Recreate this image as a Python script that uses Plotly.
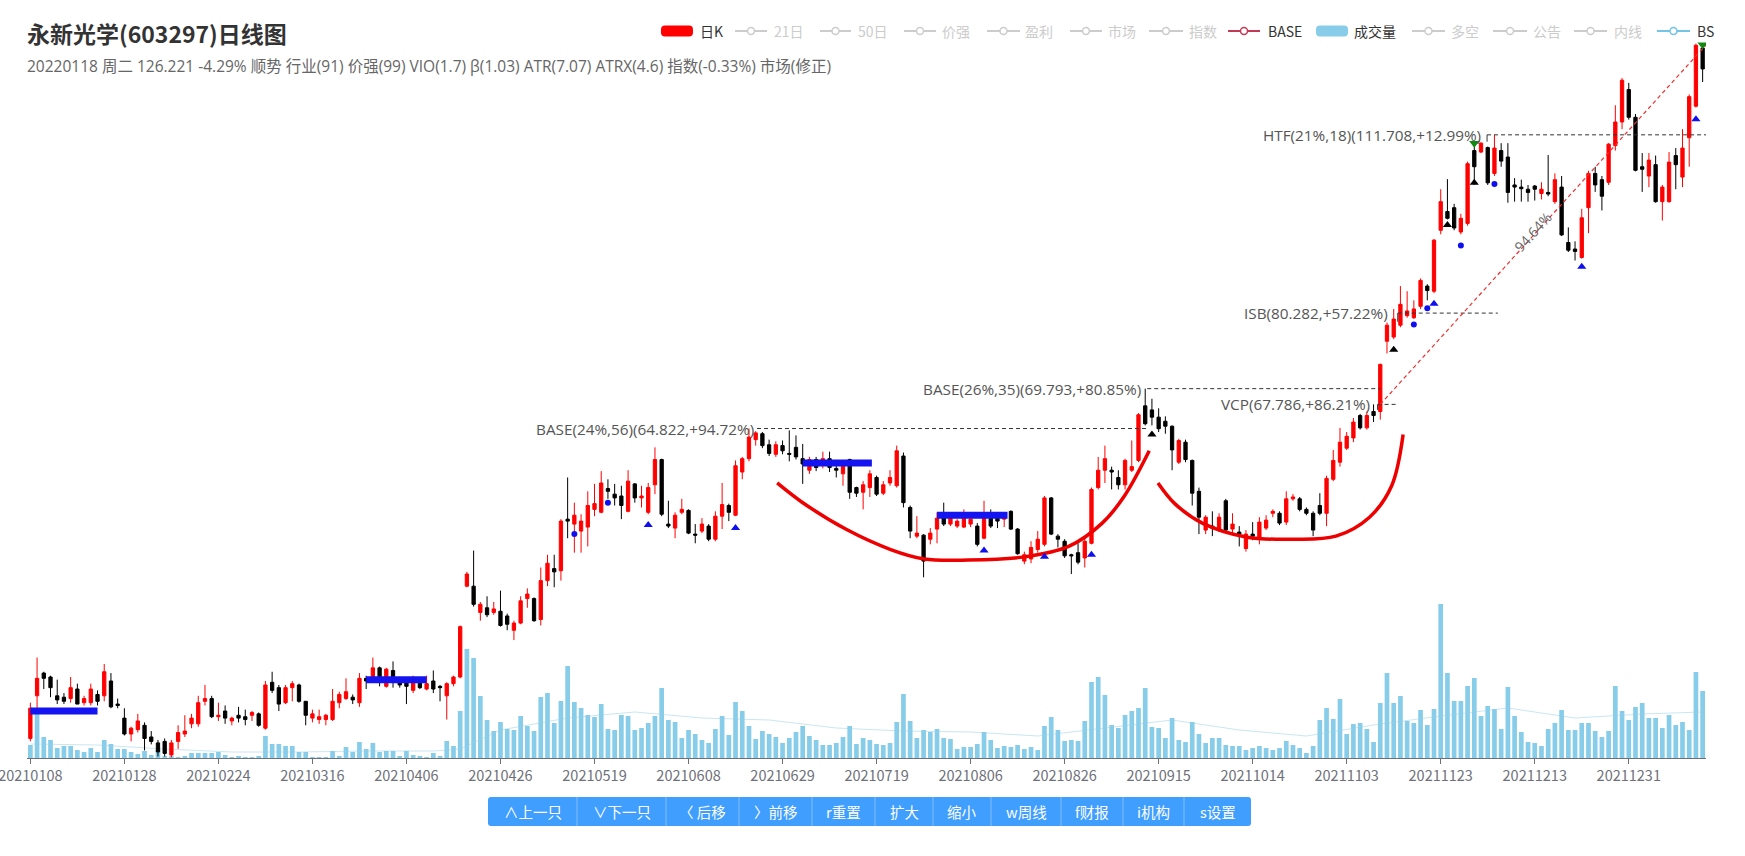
import math
import pandas as pd
import plotly.graph_objects as go

# ---------------- data ----------------
HOLIDAYS = ['2021-02-11', '2021-02-12', '2021-02-15', '2021-02-16', '2021-02-17',
            '2021-04-05', '2021-05-03', '2021-05-04', '2021-05-05', '2021-06-14',
            '2021-09-20', '2021-09-21', '2021-10-01', '2021-10-04', '2021-10-05',
            '2021-10-06', '2021-10-07', '2022-01-03']
dates = [d.strftime('%Y%m%d') for d in
         pd.bdate_range('2021-01-08', '2022-01-18', freq='C', holidays=HOLIDAYS)]

open_ = [
    36.5, 39.5, 41.2, 40.9, 39.5, 39.4, 39.3, 40.0, 39.0, 39.0,
    39.6, 39.5, 40.6, 38.9, 37.9, 36.8, 37.1, 37.4, 36.6, 36.2,
    36.3, 35.4, 36.3, 36.8, 37.5, 37.5, 39.1, 39.3, 38.0, 38.4,
    37.7, 38.1, 38.0, 38.1, 38.2, 37.2, 40.5, 40.1, 39.0, 40.1,
    40.3, 39.1, 37.9, 37.8, 37.8, 37.8, 39.0, 39.3, 39.4, 39.0,
    40.8, 40.8, 41.6, 40.2, 41.4, 40.8, 40.6, 39.9, 40.6, 40.0,
    40.6, 40.2, 39.5, 40.4, 40.9, 48.4, 48.4, 46.1, 46.5, 46.1,
    46.2, 45.8, 44.6, 45.2, 47.3, 47.3, 45.5, 48.9, 50.0, 49.8,
    54.8, 54.3, 53.6, 54.0, 55.8, 55.5, 58.0, 57.4, 57.2, 55.6,
    58.5, 57.0, 55.5, 58.4, 61.2, 54.3, 53.9, 55.5, 55.7, 53.3,
    53.6, 54.1, 52.8, 55.1, 56.2, 55.2, 59.8, 61.3, 63.5, 64.2,
    62.9, 61.8, 62.8, 61.9, 62.6, 61.3, 60.0, 61.2, 60.6, 61.3,
    60.2, 59.6, 61.2, 58.1, 57.6, 58.1, 59.2, 57.5, 58.6, 58.3,
    61.6, 56.0, 53.1, 53.2, 52.8, 53.8, 55.2, 54.3, 54.1, 54.0,
    54.3, 54.1, 52.9, 55.1, 55.2, 54.8, 55.6, 53.8, 50.7, 50.9,
    51.8, 52.3, 57.0, 53.1, 52.6, 51.3, 51.5, 51.0, 52.4, 58.1,
    60.0, 60.0, 59.2, 58.4, 60.0, 61.1, 67.6, 67.1, 66.2, 65.7,
    65.1, 60.9, 63.2, 61.1, 57.7, 53.7, 54.1, 53.7, 56.7, 53.8,
    53.5, 51.9, 53.3, 52.9, 53.9, 55.4, 55.4, 54.5, 56.9, 56.9,
    55.8, 55.4, 56.2, 55.4, 59.0, 60.9, 62.5, 63.7, 66.4, 64.9,
    66.9, 66.9, 76.2, 76.8, 78.5, 79.9, 79.6, 81.3, 84.4, 83.6,
    93.6, 96.9, 97.6, 93.3, 94.8, 108.5, 108.2, 109.1, 104.0, 108.5,
    107.2, 101.8, 101.4, 101.0, 101.6, 100.2, 100.4, 98.7, 101.4, 91.5,
    90.4, 89.0, 97.6, 104.0, 102.8, 102.3, 109.5, 114.4, 121.5, 115.4,
    105.3, 103.5, 105.7, 98.7, 98.7, 107.5, 103.3, 111.1, 117.8, 131.2,
]
high = [
    39.0, 42.4, 41.3, 41.0, 40.7, 39.7, 40.9, 40.4, 39.5, 40.4,
    39.9, 41.9, 41.2, 39.3, 38.6, 37.3, 38.2, 37.6, 37.0, 36.4,
    36.5, 36.4, 37.4, 38.1, 38.2, 39.5, 40.3, 39.5, 39.0, 38.8,
    38.0, 38.7, 38.5, 38.4, 38.3, 40.6, 41.3, 40.3, 40.3, 40.6,
    40.4, 39.1, 38.5, 38.5, 38.2, 40.0, 39.8, 40.8, 39.6, 41.2,
    41.0, 42.4, 41.7, 41.6, 42.1, 40.9, 40.9, 41.0, 40.8, 41.0,
    41.4, 40.3, 40.5, 41.0, 45.0, 49.7, 51.7, 47.0, 47.5, 47.0,
    48.0, 46.0, 45.4, 47.5, 48.2, 47.4, 50.1, 51.3, 51.3, 54.8,
    59.2, 56.5, 55.3, 57.7, 58.5, 59.9, 59.0, 58.5, 58.3, 60.0,
    58.6, 58.3, 58.6, 62.6, 61.3, 56.7, 55.5, 56.9, 55.8, 54.3,
    54.9, 54.3, 55.6, 58.6, 56.4, 61.1, 61.5, 64.82, 64.5, 64.4,
    63.5, 63.3, 63.4, 64.6, 64.0, 63.0, 61.5, 61.5, 62.1, 62.1,
    60.7, 60.7, 61.3, 58.2, 58.8, 60.0, 59.4, 58.8, 60.0, 62.8,
    62.0, 56.2, 55.1, 53.3, 53.9, 55.5, 56.5, 55.4, 54.8, 55.8,
    55.2, 54.4, 56.7, 55.8, 55.5, 55.5, 55.7, 53.9, 51.6, 52.6,
    53.6, 57.2, 57.1, 53.3, 52.8, 51.4, 52.4, 52.9, 58.1, 61.5,
    62.8, 60.4, 60.0, 61.3, 63.4, 66.7, 69.79, 68.5, 67.3, 66.3,
    65.2, 63.6, 63.5, 61.2, 58.1, 55.2, 55.6, 55.4, 56.9, 55.4,
    54.1, 53.7, 54.5, 55.0, 55.2, 55.8, 55.6, 57.7, 57.4, 57.1,
    56.0, 55.6, 57.5, 59.4, 62.3, 64.9, 64.4, 66.1, 66.6, 66.9,
    67.79, 73.1, 78.9, 80.9, 84.4, 83.6, 82.2, 85.6, 84.7, 92.1,
    101.0, 102.9, 98.3, 96.5, 106.3, 109.5, 110.2, 109.3, 111.708, 110.0,
    110.0, 103.1, 102.8, 101.8, 101.8, 102.3, 107.6, 104.0, 103.5, 94.1,
    91.7, 97.4, 104.5, 105.3, 103.5, 110.0, 118.0, 124.1, 123.0, 116.1,
    108.0, 108.0, 107.5, 101.8, 108.2, 109.0, 112.9, 120.4, 132.3, 132.2,
]
low = [
    36.3, 38.6, 40.0, 39.4, 38.9, 38.9, 39.0, 38.9, 38.8, 38.8,
    38.8, 39.1, 38.6, 38.6, 36.7, 36.3, 36.9, 35.7, 36.1, 35.3,
    35.3, 35.25, 35.8, 36.6, 37.2, 37.3, 38.8, 37.9, 37.7, 37.5,
    37.4, 37.6, 37.4, 37.7, 37.3, 37.1, 39.7, 38.4, 38.9, 39.1,
    39.0, 37.4, 37.6, 37.5, 37.4, 37.7, 38.6, 39.2, 38.9, 38.7,
    40.0, 40.6, 40.2, 40.1, 40.1, 40.1, 38.9, 39.7, 40.0, 39.9,
    39.7, 39.1, 37.8, 40.2, 40.8, 48.3, 46.6, 45.4, 45.7, 45.9,
    44.9, 44.6, 43.8, 45.1, 46.5, 45.3, 45.0, 48.4, 48.3, 48.9,
    52.9, 51.5, 51.5, 52.1, 55.1, 55.4, 56.9, 56.2, 54.8, 55.5,
    56.5, 56.0, 55.3, 57.4, 55.1, 53.9, 52.9, 55.3, 53.3, 52.4,
    53.4, 52.6, 52.6, 53.8, 54.6, 55.1, 59.0, 61.0, 62.8, 62.5,
    61.6, 61.5, 61.8, 61.0, 61.2, 58.5, 59.6, 59.9, 60.2, 59.8,
    59.2, 58.3, 56.9, 57.1, 55.8, 57.1, 57.2, 57.3, 58.3, 58.1,
    56.0, 52.9, 52.9, 49.2, 52.3, 52.4, 54.1, 54.1, 53.9, 53.9,
    54.0, 52.1, 52.8, 53.9, 53.9, 54.0, 53.7, 51.3, 50.4, 50.5,
    51.5, 52.1, 53.2, 52.0, 51.0, 49.5, 50.4, 50.1, 52.3, 57.9,
    58.6, 57.9, 57.9, 57.9, 59.8, 60.9, 65.2, 65.2, 64.4, 64.2,
    60.0, 60.7, 60.9, 56.2, 53.3, 53.3, 53.1, 53.5, 53.5, 53.3,
    52.1, 51.6, 52.7, 52.3, 53.7, 55.0, 54.2, 54.2, 56.7, 55.6,
    55.2, 53.1, 55.2, 54.1, 58.8, 60.4, 62.3, 63.2, 64.7, 64.7,
    65.6, 65.9, 74.5, 76.5, 78.2, 79.6, 79.4, 80.9, 82.2, 83.3,
    92.9, 95.5, 93.6, 92.9, 94.4, 101.8, 108.0, 101.8, 103.5, 105.3,
    98.5, 98.7, 98.7, 98.7, 98.9, 99.1, 99.7, 98.3, 92.6, 89.9,
    88.5, 88.8, 93.1, 100.5, 97.1, 101.8, 108.5, 112.9, 114.9, 104.4,
    100.5, 101.4, 98.5, 95.3, 98.5, 101.0, 101.4, 105.3, 117.5, 123.2,
]
close = [
    38.6, 40.8, 40.8, 40.1, 39.2, 39.1, 40.1, 38.9, 39.3, 40.0,
    39.1, 41.3, 38.7, 38.8, 36.8, 37.2, 37.7, 36.5, 36.3, 35.6,
    35.5, 36.2, 36.9, 37.0, 37.9, 39.0, 39.3, 38.0, 38.1, 37.9,
    37.9, 37.9, 37.8, 38.3, 37.4, 40.3, 39.9, 38.9, 40.1, 40.4,
    39.1, 38.1, 38.2, 38.0, 38.1, 39.1, 39.6, 39.8, 39.2, 40.8,
    40.6, 41.6, 40.6, 41.5, 40.7, 40.3, 40.2, 40.6, 40.1, 40.4,
    40.0, 40.1, 40.4, 40.9, 44.9, 49.5, 46.8, 46.8, 45.9, 46.4,
    45.0, 45.1, 45.2, 47.1, 47.7, 45.4, 48.9, 50.5, 49.7, 54.6,
    54.6, 55.2, 54.6, 56.2, 56.4, 58.6, 57.7, 57.0, 56.2, 58.8,
    57.0, 57.2, 58.1, 61.2, 55.3, 54.1, 55.2, 55.8, 53.4, 53.2,
    54.3, 52.8, 55.1, 56.3, 55.5, 60.5, 61.3, 63.8, 64.3, 62.8,
    61.9, 62.9, 62.2, 61.8, 61.5, 60.7, 61.2, 60.3, 61.3, 60.3,
    60.0, 60.5, 57.6, 57.5, 58.4, 59.6, 57.4, 58.4, 59.2, 62.2,
    56.5, 53.6, 53.4, 50.7, 53.4, 54.9, 54.3, 54.9, 54.6, 54.9,
    54.8, 52.3, 55.1, 54.1, 54.6, 55.4, 53.8, 51.4, 51.3, 52.0,
    52.8, 57.0, 53.3, 52.8, 51.2, 51.2, 50.6, 52.6, 57.9, 60.0,
    61.3, 59.8, 58.4, 61.1, 60.4, 66.5, 65.4, 66.2, 64.8, 65.1,
    62.3, 63.4, 61.2, 57.5, 55.0, 55.0, 53.9, 55.0, 53.7, 54.3,
    53.3, 53.3, 53.1, 54.5, 54.7, 55.6, 54.4, 56.9, 57.1, 55.8,
    55.4, 53.7, 55.4, 59.1, 61.1, 63.2, 63.9, 65.6, 64.9, 66.4,
    66.4, 73.0, 78.5, 79.4, 81.6, 80.6, 80.9, 85.3, 83.7, 91.9,
    98.7, 95.7, 94.0, 95.7, 105.9, 105.3, 110.0, 102.2, 109.0, 106.4,
    100.4, 101.4, 101.1, 100.4, 101.0, 101.0, 100.1, 102.8, 92.8, 90.2,
    90.0, 95.8, 104.0, 101.8, 99.7, 109.8, 114.4, 123.6, 115.4, 104.6,
    104.8, 106.6, 98.7, 101.4, 106.2, 105.7, 109.0, 119.9, 131.88, 126.22,
]
volume = [
    13, 50, 21, 18, 10, 12, 12, 8, 6, 10,
    6, 18, 14, 9, 9, 6, 4, 7, 3, 8,
    2, 2, 1, 2, 5, 5, 5, 5, 6, 3,
    1, 2, 1, 1, 2, 22, 14, 14, 12, 12,
    6, 6, 1, 1, 1, 7, 2, 11, 6, 16,
    9, 15, 6, 7, 7, 2, 7, 3, 2, 1,
    5, 2, 17, 12, 47, 109, 100, 62, 38, 27,
    36, 29, 28, 42, 32, 27, 61, 65, 35, 57,
    92, 56, 50, 43, 41, 54, 29, 28, 43, 42,
    28, 30, 35, 42, 70, 38, 36, 20, 28, 24,
    18, 15, 29, 42, 23, 56, 47, 32, 19, 27,
    24, 21, 15, 20, 26, 32, 22, 18, 13, 13,
    15, 21, 32, 14, 20, 18, 14, 13, 15, 36,
    64, 37, 20, 28, 26, 29, 20, 19, 9, 11,
    11, 14, 26, 18, 10, 12, 11, 13, 9, 11,
    8, 32, 41, 28, 17, 18, 17, 37, 76, 81,
    63, 33, 30, 43, 47, 50, 70, 31, 30, 20,
    40, 18, 16, 36, 24, 15, 20, 20, 13, 12,
    12, 8, 10, 12, 10, 8, 10, 17, 13, 10,
    5, 12, 38, 50, 39, 59, 24, 34, 35, 29,
    16, 55, 85, 55, 62, 37, 35, 48, 33, 49,
    154, 85, 57, 57, 72, 80, 42, 52, 49, 29,
    71, 42, 26, 16, 15, 12, 29, 35, 48, 28,
    28, 35, 35, 27, 21, 27, 72, 47, 38, 51,
    55, 40, 40, 30, 43, 33, 36, 28, 86, 67,
]
volma_x = [0, 10, 20, 30, 40, 50, 60, 64, 70, 80, 90, 100, 110, 120, 130, 140,
           150, 160, 170, 180, 190, 200, 210, 220, 230, 240, 249]
volma_y = [14, 13, 9, 6, 6, 7, 7, 9, 28, 40, 46, 40, 38, 30, 27, 26,
           22, 30, 38, 28, 22, 33, 42, 50, 40, 44, 46]

# signal markers
blue_dot_x = [81, 86, 206, 208, 213, 218]
blue_dot_y = [53.3, 56.5, 78.6, 81.0, 91.0, 102.0]
blue_tri_x = [92, 105, 142, 151, 158, 209, 231, 248]
blue_tri_y = [54.2, 53.9, 51.7, 51.1, 51.3, 81.7, 87.5, 115.0]
black_tri_x = [167, 203, 211, 215]
black_tri_y = [64.1, 75.0, 94.5, 102.2]
green_tri_x = [215, 249]
green_tri_y = [110.0, 132.0]

# base (blue) bars
bbar_x0 = [0, 50, 115, 135]
bbar_x1 = [10, 59, 125.3, 145.5]
bbar_y = [38.4, 40.7, 60.8, 55.2]

# hand-drawn cup curves
cup1_x = [111.2, 114.8, 121.4, 128.1, 133.1, 139.7, 148.0, 154.6, 159.6, 162.9, 166.6]
cup1_y = [58.6, 56.6, 53.8, 51.8, 50.9, 50.8, 51.1, 52.1, 54.4, 57.2, 62.2]
cup2_x = [167.9, 170.4, 174.5, 181.2, 187.8, 194.4, 199.4, 202.7, 204.4]
cup2_y = [58.6, 56.4, 54.4, 53.0, 52.8, 53.1, 55.0, 58.3, 64.1]

# pivot levels
lvl_text = ['BASE(24%,56)(64.822,+94.72%)', 'BASE(26%,35)(69.793,+80.85%)',
            'VCP(67.786,+86.21%)', 'ISB(80.282,+57.22%)', 'HTF(21%,18)(111.708,+12.99%)']
lvl_price = [64.822, 69.793, 67.786, 80.282, 111.708]
lvl_x0 = [108.2, 166.3, 200.6, 203.6, 216.9]
lvl_x1 = [166.3, 201.0, 203.6, 218.5, 249.5]
lvl_label_x = [108.0, 165.6, 199.8, 202.4, 216.3]
hook_x = [200.6, 203.6, 216.9]
hook_y0 = [67.786, 80.282, 111.708]
hook_y1 = [67.1, 79.0, 110.3]

# trend line (gain)
trend_x = [201.0, 249.5]
trend_y = [67.786, 131.94]
trend_label = '94.64%'

title_text = '永新光学(603297)日线图'
sub_text = ('20220118 周二 126.221 -4.29% 顺势 行业(91) 价强(99) VIO(1.7) β(1.03) '
            'ATR(7.07) ATRX(4.6) 指数(-0.33%) 市场(修正)')
legend_labels = ['日K', '21日', '50日', '价强', '盈利', '市场', '指数', 'BASE', '成交量',
                 '多空', '公告', '内线', 'BS']
button_labels = ['∧上一只', '∨下一只', '〈 后移', '〉前移', 'r重置', '扩大', '缩小',
                 'w周线', 'f财报', 'i机构', 's设置']

# ---------------- layout helpers ----------------
W, H = 1745, 856
ML, MR, MT, MB = 27, 39, 42, 98
PW, PH = W - ML - MR, H - MT - MB


def px(x):
    return (x - ML) / PW


def py(y):
    return (H - MB - y) / PH


FONT = 'Open Sans, Noto Sans CJK SC, sans-serif'
CJK = 'Noto Sans CJK SC, Open Sans, sans-serif'

idx = list(range(len(dates)))
high = [max(h, o, c) for h, o, c in zip(high, open_, close)]
low = [min(l, o, c) for l, o, c in zip(low, open_, close)]

fig = go.Figure()
fig.add_trace(go.Bar(x=idx, y=volume, yaxis='y', width=0.7,
                     marker=dict(color='#87cdea', line=dict(width=0))))
fig.add_trace(go.Scatter(x=volma_x, y=volma_y, yaxis='y', mode='lines',
                         line=dict(color='rgba(150,205,230,0.5)', width=1)))
fig.add_trace(go.Candlestick(
    x=idx, open=open_, high=high, low=low, close=close, yaxis='y2', whiskerwidth=0,
    increasing=dict(line=dict(color='#ff0000', width=1), fillcolor='#ff0000'),
    decreasing=dict(line=dict(color='#000000', width=1), fillcolor='#000000')))

for x0, x1, yv in zip(bbar_x0, bbar_x1, bbar_y):
    fig.add_trace(go.Scatter(x=[x0, x1], y=[yv, yv], yaxis='y2', mode='lines',
                             line=dict(color='#1414f0', width=7)))
for cx, cy in ((cup1_x, cup1_y), (cup2_x, cup2_y)):
    fig.add_trace(go.Scatter(x=cx, y=cy, yaxis='y2', mode='lines',
                             line=dict(color='#ee0000', width=3.5, shape='spline', smoothing=1.0)))
for x0, x1, p in zip(lvl_x0, lvl_x1, lvl_price):
    fig.add_trace(go.Scatter(x=[x0, x1], y=[p, p], yaxis='y2', mode='lines',
                             line=dict(color='#333333', width=1, dash='4px,3px')))
for hx, h0, h1 in zip(hook_x, hook_y0, hook_y1):
    fig.add_trace(go.Scatter(x=[hx, hx], y=[h0, h1], yaxis='y2', mode='lines',
                             line=dict(color='#333333', width=1)))
fig.add_trace(go.Scatter(x=trend_x, y=trend_y, yaxis='y2', mode='lines',
                         line=dict(color='#f03030', width=1.2, dash='4px,3px')))
fig.add_trace(go.Scatter(x=blue_dot_x, y=blue_dot_y, yaxis='y2', mode='markers',
                         marker=dict(symbol='circle', size=6, color='#1010ee')))
fig.add_trace(go.Scatter(x=blue_tri_x, y=blue_tri_y, yaxis='y2', mode='markers',
                         marker=dict(symbol='triangle-up', size=8, color='#1010ee')))
fig.add_trace(go.Scatter(x=black_tri_x, y=black_tri_y, yaxis='y2', mode='markers',
                         marker=dict(symbol='triangle-up', size=8, color='#000000')))
fig.add_trace(go.Scatter(x=green_tri_x, y=green_tri_y, yaxis='y2', mode='markers',
                         marker=dict(symbol='triangle-down', size=9, color='#128a12')))

shapes = []
annotations = []

shapes.append(dict(type='rect', xref='x', yref='y2', x0=106.6, x1=119.6,
                   y0=math.log10(61.3), y1=math.log10(65.4), layer='above',
                   fillcolor='rgba(255,255,255,0.6)', line=dict(width=0)))

for lx, p, t in zip(lvl_label_x, lvl_price, lvl_text):
    annotations.append(dict(x=lx, y=math.log10(p), xref='x', yref='y2', text=t,
                            showarrow=False, xanchor='right', yanchor='middle',
                            font=dict(family=FONT, size=15.3, color='#555555')))

tpix_dx = (trend_x[1] - trend_x[0]) * PW / 250.0
tpix_dy = math.log(trend_y[1] / trend_y[0]) / math.log(132.68 / 35.20) * PH
ang = math.degrees(math.atan2(tpix_dy, tpix_dx))
annotations.append(dict(x=223.6, y=math.log10(93.3), xref='x', yref='y2', text=trend_label,
                        showarrow=False, textangle=-ang,
                        font=dict(family=FONT, size=14, color='#666666')))

annotations.append(dict(x=px(25), y=py(33), xref='paper', yref='paper',
                        text='<b>' + title_text + '</b>', showarrow=False,
                        xanchor='left', yanchor='middle',
                        font=dict(family=CJK, size=23, color='#333333')))
annotations.append(dict(x=px(25), y=py(66), xref='paper', yref='paper', text=sub_text,
                        showarrow=False, xanchor='left', yanchor='middle',
                        font=dict(family=FONT, size=15.5, color='#666666')))


def rrect_path(x0, y0, x1, y1, r):
    pts = [('M', x0 + r, y0), ('L', x1 - r, y0), ('Q', x1, y0, x1, y0 + r),
           ('L', x1, y1 - r), ('Q', x1, y1, x1 - r, y1), ('L', x0 + r, y1),
           ('Q', x0, y1, x0, y1 - r), ('L', x0, y0 + r), ('Q', x0, y0, x0 + r, y0)]
    out = []
    for p in pts:
        coords = p[1:]
        s = ['%.5f,%.5f' % (px(coords[i]), py(coords[i + 1])) for i in range(0, len(coords), 2)]
        out.append(p[0] + ' '.join(s))
    return ' '.join(out) + ' Z'


leg_pos = [(661, 693, 698), (735, 767, 772), (820, 851, 856), (904, 936, 940),
           (987, 1020, 1023), (1070, 1102, 1106), (1149, 1183, 1187),
           (1228, 1260, 1266), (1316, 1348, 1352), (1412, 1445, 1449),
           (1493, 1527, 1531), (1574, 1607, 1612), (1657, 1690, 1695)]
leg_style = ['rect:#ff0000', 'line:#cccccc', 'line:#cccccc', 'line:#cccccc',
             'line:#cccccc', 'line:#cccccc', 'line:#cccccc', 'line:#c23a55',
             'rect:#87cdea', 'line:#cccccc', 'line:#cccccc', 'line:#cccccc',
             'line:#74c4e8']
LY = 31
for lab, (a, b, tx), st in zip(legend_labels, leg_pos, leg_style):
    kind, col = st.split(':')
    on = col != '#cccccc'
    if kind == 'rect':
        shapes.append(dict(type='path', xref='paper', yref='paper',
                           path=rrect_path(a, LY - 5.5, b, LY + 5.5, 4),
                           fillcolor=col, line=dict(width=0)))
    else:
        shapes.append(dict(type='line', xref='paper', yref='paper', x0=px(a), x1=px(b),
                           y0=py(LY), y1=py(LY), line=dict(color=col, width=2)))
        cx = (a + b) / 2.0
        shapes.append(dict(type='circle', xref='paper', yref='paper',
                           x0=px(cx - 3.5), x1=px(cx + 3.5), y0=py(LY + 3.5), y1=py(LY - 3.5),
                           fillcolor='white', line=dict(color=col, width=1.5)))
    annotations.append(dict(x=px(tx), y=py(LY), xref='paper', yref='paper', text=lab,
                            showarrow=False, xanchor='left', yanchor='middle',
                            font=dict(family=CJK, size=14,
                                      color='#333333' if on else '#cccccc')))

btn_edges = [488, 577, 666, 739, 812, 875, 933, 991, 1061, 1123, 1184, 1251]
BY0, BY1 = 797, 826
shapes.append(dict(type='path', xref='paper', yref='paper',
                   path=rrect_path(btn_edges[0], BY0, btn_edges[-1], BY1, 3),
                   fillcolor='#409eff', line=dict(width=0)))
for e in btn_edges[1:-1]:
    shapes.append(dict(type='line', xref='paper', yref='paper', x0=px(e), x1=px(e),
                       y0=py(BY0), y1=py(BY1),
                       line=dict(color='rgba(255,255,255,0.35)', width=1)))
for lab, a, b in zip(button_labels, btn_edges[:-1], btn_edges[1:]):
    annotations.append(dict(x=px((a + b) / 2.0), y=py((BY0 + BY1) / 2.0), xref='paper',
                            yref='paper', text=lab, showarrow=False, xanchor='center',
                            yanchor='middle', font=dict(family=CJK, size=14.5, color='white')))

fig.update_layout(
    width=W, height=H, showlegend=False,
    margin=dict(l=ML, r=MR, t=MT, b=MB, pad=0),
    paper_bgcolor='white', plot_bgcolor='white',
    xaxis=dict(range=[-0.5, len(dates) - 0.5], tickmode='array',
               tickvals=idx[::14], ticktext=dates[::14], showgrid=False, zeroline=False,
               showline=True, linecolor='#6E7079', linewidth=1, ticks='outside',
               ticklen=5, tickcolor='#6E7079', automargin=False, ticklabeloverflow='allow',
               tickfont=dict(family=CJK, size=14.5, color='#6E7079'),
               rangeslider=dict(visible=False), fixedrange=True),
    yaxis=dict(range=[0, PH], visible=False, fixedrange=True),
    yaxis2=dict(type='log', range=[math.log10(35.20), math.log10(132.68)],
                overlaying='y', visible=False, fixedrange=True),
    shapes=shapes, annotations=annotations,
    hovermode=False,
)

fig.write_html('out.html', config={'displayModeBar': False},
               post_script="document.body.style.margin='0';")
